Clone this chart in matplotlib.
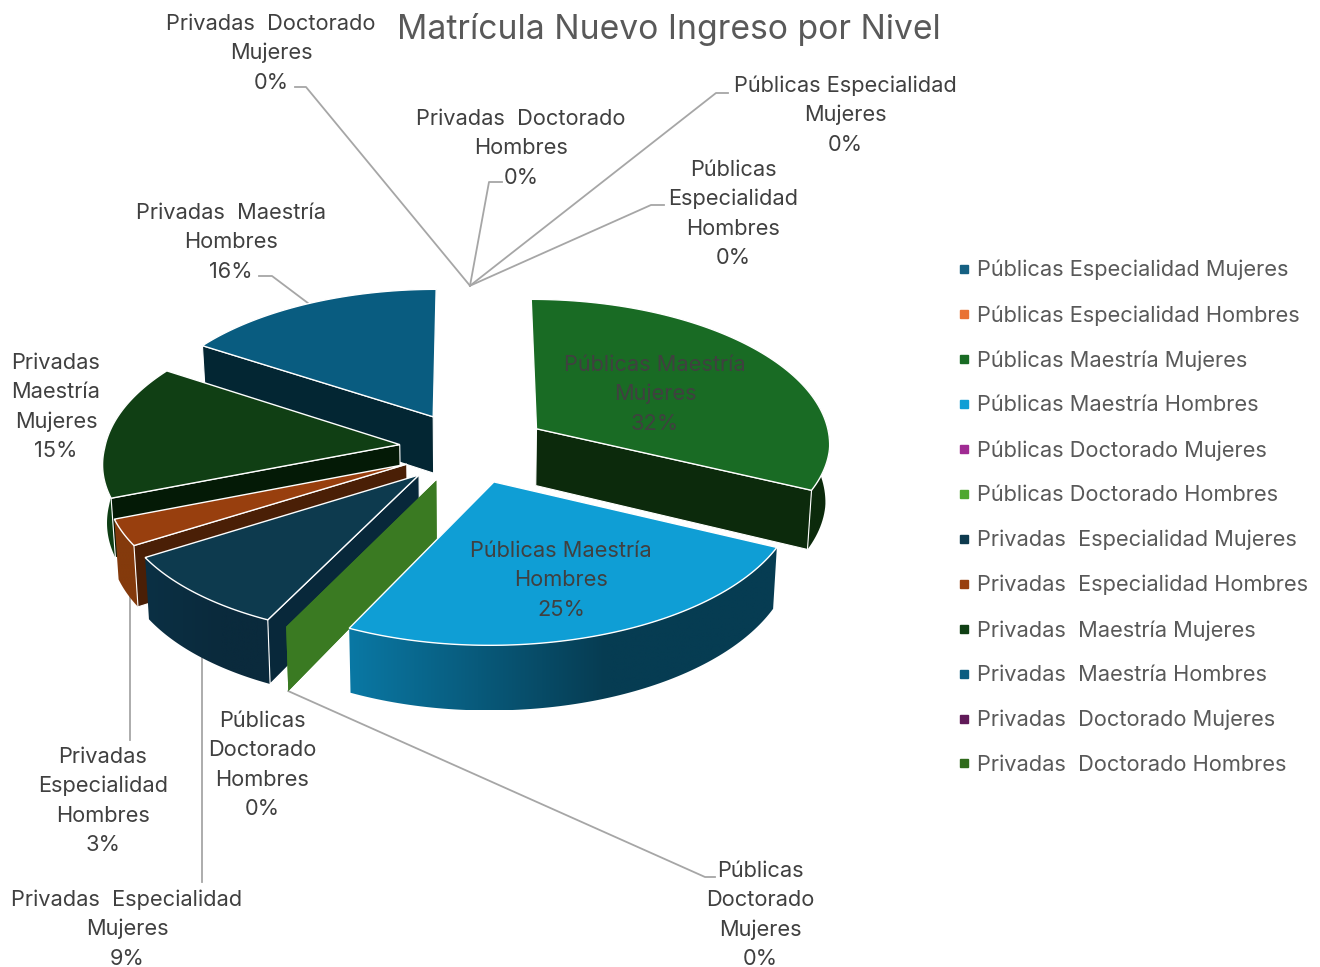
import numpy as np
import matplotlib
matplotlib.use('Agg')
import matplotlib.pyplot as plt
from matplotlib.colors import to_rgb
from matplotlib.lines import Line2D
from matplotlib.patches import Polygon

plt.rcParams['font.family'] = ['Inter', 'DejaVu Sans']

title = 'Matrícula Nuevo Ingreso por Nivel'

categories = ['Públicas Especialidad Mujeres', 'Públicas Especialidad Hombres',
              'Públicas Maestría Mujeres', 'Públicas Maestría Hombres',
              'Públicas Doctorado Mujeres', 'Públicas Doctorado Hombres',
              'Privadas  Especialidad Mujeres', 'Privadas  Especialidad Hombres',
              'Privadas  Maestría Mujeres', 'Privadas  Maestría Hombres',
              'Privadas  Doctorado Mujeres', 'Privadas  Doctorado Hombres']
values = [0, 0, 32, 25, 0, 0, 9, 3, 15, 16, 0, 0]

# labels wrapped the way the chart wraps them
wrapped = ['Públicas Especialidad\nMujeres', 'Públicas\nEspecialidad\nHombres',
           'Públicas Maestría\nMujeres', 'Públicas Maestría\nHombres',
           'Públicas\nDoctorado\nMujeres', 'Públicas\nDoctorado\nHombres',
           'Privadas  Especialidad\nMujeres', 'Privadas\nEspecialidad\nHombres',
           'Privadas\nMaestría\nMujeres', 'Privadas  Maestría\nHombres',
           'Privadas  Doctorado\nMujeres', 'Privadas  Doctorado\nHombres']

colors = ['#156082', '#E97132', '#196B24', '#0F9ED5', '#A02B93', '#4EA72E',
          '#0D3A4E', '#983F0E', '#103F14', '#095C80', '#601A58', '#2F6A1B']
wall_colors = ['#0a3040', '#6e3010', '#0c2a0c', '#063c52', '#3a7a22', '#3a7a22',
               '#08283a', '#4a1f06', '#041a06', '#032633', '#30102c', '#173510']
rim_from = ['#0a3040', '#6e3010', '#0c2a0c', '#0a78a4', '#3a7a22', '#3a7a22',
            '#0b3044', '#843a0c', '#0e3e14', '#032633', '#30102c', '#173510']
rim_to = ['#0a3040', '#6e3010', '#0c2a0c', '#063c52', '#3a7a22', '#3a7a22',
          '#0a2a3c', '#843a0c', '#0e3e14', '#032633', '#30102c', '#173510']

# label centre x, first line baseline y
label_pos = [(845, 92), (733, 176), (655, 371), (561, 557), (760, 877), (262, 727),
             (127, 906), (103, 763), (56, 369), (231, 219), (271, 30), (521, 125)]
# leader line points after the anchor on the slice rim
leaders = {0: [(716, 93), (728, 93)], 1: [(651, 205), (664, 205)],
           4: [(705, 877), (715, 877)], 6: [(202, 882)], 7: [(130, 740)],
           9: [(272, 276), (259, 276)], 10: [(306, 87), (295, 87)],
           11: [(489, 182), (502, 182)]}
leader_depth = {4: 1, 6: 1, 7: 1}
vertical = {6, 7}
# small sideways nudges of single slices, in pixels
nudge = {2: 5, 7: 4, 8: 3, 9: -2}

CX, CY = 470, 448
RX, RY = 295, 141
K = 0.095
EXPLODE = 0.25
DEPTH = 57.5
LINE_H = 29.3
TEXT = '#404040'
FS = 15.7


fig = plt.figure(figsize=(13.2, 9.67), dpi=100)
ax = fig.add_axes([0, 0, 1, 1])


def project(ang, mid, r=1.0, z=0.0, dx=0):
    u = EXPLODE * np.sin(mid) + r * np.sin(ang)
    v = -EXPLODE * np.cos(mid) - r * np.cos(ang)
    p = 1 / (1 - K * v)
    # the view is slightly skewed: front leans left, back sits a bit higher
    x = CX + dx + RX * u * p * (1 - 0.012 * z) - 7 * np.maximum(v, 0)
    y = CY + RY * v * p * np.where(v < 0, 1.03, 1) + DEPTH * z * p
    return np.column_stack([x, y])


def flat_side(ang, mid, dx=0):
    t = np.array([ang])
    return np.vstack([project(t, mid, 0, 0, dx), project(t, mid, 1, 0, dx),
                      project(t, mid, 1, 1, dx), project(t, mid, 0, 1, dx)])


edges = np.radians(np.concatenate([[0], np.cumsum(values)]) * 3.6)
mids = (edges[:-1] + edges[1:]) / 2

# back to front
order = sorted(range(len(values)), key=lambda i: -np.cos(mids[i]))
for i in order:
    a, b, mid = edges[i], edges[i + 1], mids[i]
    z0 = 2 + order.index(i)
    dx = nudge.get(i, 0)
    if values[i] == 0:
        # a zero slice only shows its flat side
        if np.sin(a) < -0.01:
            pts = flat_side(a, mid)
            ax.add_patch(Polygon(pts, color=wall_colors[i], lw=0, zorder=z0))
        continue
    angs = np.linspace(a, b, 90)
    top = project(angs, mid, 1, 0, dx)
    # outer wall with its shading, only the part turned to the viewer
    front = angs[-np.cos(angs) > -0.35]
    if len(front) > 1:
        rim = np.vstack([project(front, mid, 1, 0, dx), project(front[::-1], mid, 1, 1, dx)])
        clip = Polygon(rim, transform=ax.transData, fc='none', ec='none')
        ax.add_patch(clip)
        c0, c1 = np.array(to_rgb(rim_from[i])), np.array(to_rgb(rim_to[i]))
        t = np.clip(np.linspace(0, 1, 200) / 0.6, 0, 1)[:, None]
        grad = (c0 + (c1 - c0) * t)[None, :, :]
        im = ax.imshow(grad, extent=(rim[:, 0].min(), rim[:, 0].max(), rim[:, 1].max(), rim[:, 1].min()),
                       aspect='auto', zorder=z0, interpolation='bilinear')
        im.set_clip_path(clip)
    # flat sides that face the viewer
    for ang, vis in ((a, np.sin(a) < -0.01), (b, np.sin(b) > 0.01)):
        if vis:
            ax.add_patch(Polygon(flat_side(ang, mid, dx), fc=wall_colors[i], ec='white', lw=0.8, zorder=z0))
    apex = project(np.array([mid]), mid, 0, 0, dx)
    ax.add_patch(Polygon(np.vstack([apex, top]), fc=colors[i], ec='white', lw=1.0, zorder=z0))

ax.set_xlim(0, 1320)
ax.set_ylim(967, 0)
ax.axis('off')

# leader lines
for i, pts in leaders.items():
    start = project(np.array([mids[i]]), mids[i], 1, leader_depth.get(i, 0))[0]
    x0 = pts[0][0] if i in vertical else start[0]
    ax.plot([x0] + [p[0] for p in pts], [start[1]] + [p[1] for p in pts], color='#a6a6a6', lw=1.3, zorder=1)

# data labels
for i, (lab, (x, y)) in enumerate(zip(wrapped, label_pos)):
    lines = lab.split('\n') + [f'{values[i]}%']
    for n, line in enumerate(lines):
        ax.text(x, y + n * LINE_H, line, ha='center', va='baseline', fontsize=FS, color=TEXT, zorder=30)

ax.text(669, 39, title, ha='center', va='baseline', fontsize=24.2, color='#595959')

handles = [Line2D([], [], linestyle='none', marker='s', markersize=6, color=c) for c in colors]
ax.legend(handles, categories, loc='upper left', bbox_to_anchor=(955 / 1320, 1 - 260 / 967),
          bbox_transform=fig.transFigure, frameon=False, fontsize=FS, labelcolor='#595959',
          labelspacing=1.13, handlelength=0.8, handletextpad=0.2, borderpad=0, borderaxespad=0)

fig.savefig('out.png', dpi=100)
